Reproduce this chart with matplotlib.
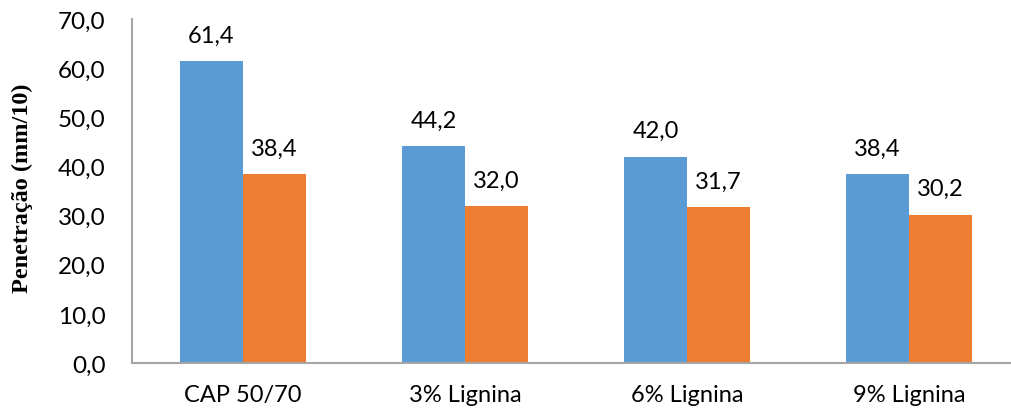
import matplotlib.pyplot as plt
import numpy as np

categorias = ["CAP 50/70", "3% Lignina", "6% Lignina", "9% Lignina"]
serie_1 = [61.4, 44.2, 42.0, 38.4]
serie_2 = [38.4, 32.0, 31.7, 30.2]
yticks = [0, 10, 20, 30, 40, 50, 60, 70]

azul = "#5B9BD5"
laranja = "#ED7D31"

plt.rcParams["font.family"] = ["Lato", "DejaVu Sans"]

fig = plt.figure(figsize=(10.11, 4.14), dpi=100)
ax = fig.add_axes([132/1011, 1 - 364/414, (1011 - 132)/1011, (364 - 20)/414])

x = np.arange(len(categorias))
w = 0.284
b1 = ax.bar(x - w/2, serie_1, w, color=azul)
b2 = ax.bar(x + w/2, serie_2, w, color=laranja)

for bars, vals in ((b1, serie_1), (b2, serie_2)):
    ax.bar_label(bars, labels=[("%.1f" % v).replace(".", ",") for v in vals],
                 padding=11, fontsize=17, color="#000000")

ax.set_xlim(-0.5, (1011 - 132)/222 - 0.5)
ax.set_ylim(0, 70)
ax.set_yticks(yticks)
ax.set_yticklabels([("%.1f" % v).replace(".", ",") for v in yticks], fontsize=17.5)
ax.set_xticks(x)
ax.set_xticklabels(categorias, fontsize=17)
ax.tick_params(axis="y", length=0, pad=19)
ax.tick_params(axis="x", length=0, pad=15)

for s in ("top", "right"):
    ax.spines[s].set_visible(False)
for s in ("left", "bottom"):
    ax.spines[s].set_color("#A6A6A6")
    ax.spines[s].set_linewidth(1.5)

fig.text(22/1011, 1 - 188/414, "Penetração (mm/10)", rotation=90,
         family="Liberation Serif", fontweight="bold", fontsize=17.5,
         ha="center", va="center")

fig.savefig("out.png", dpi=100)
